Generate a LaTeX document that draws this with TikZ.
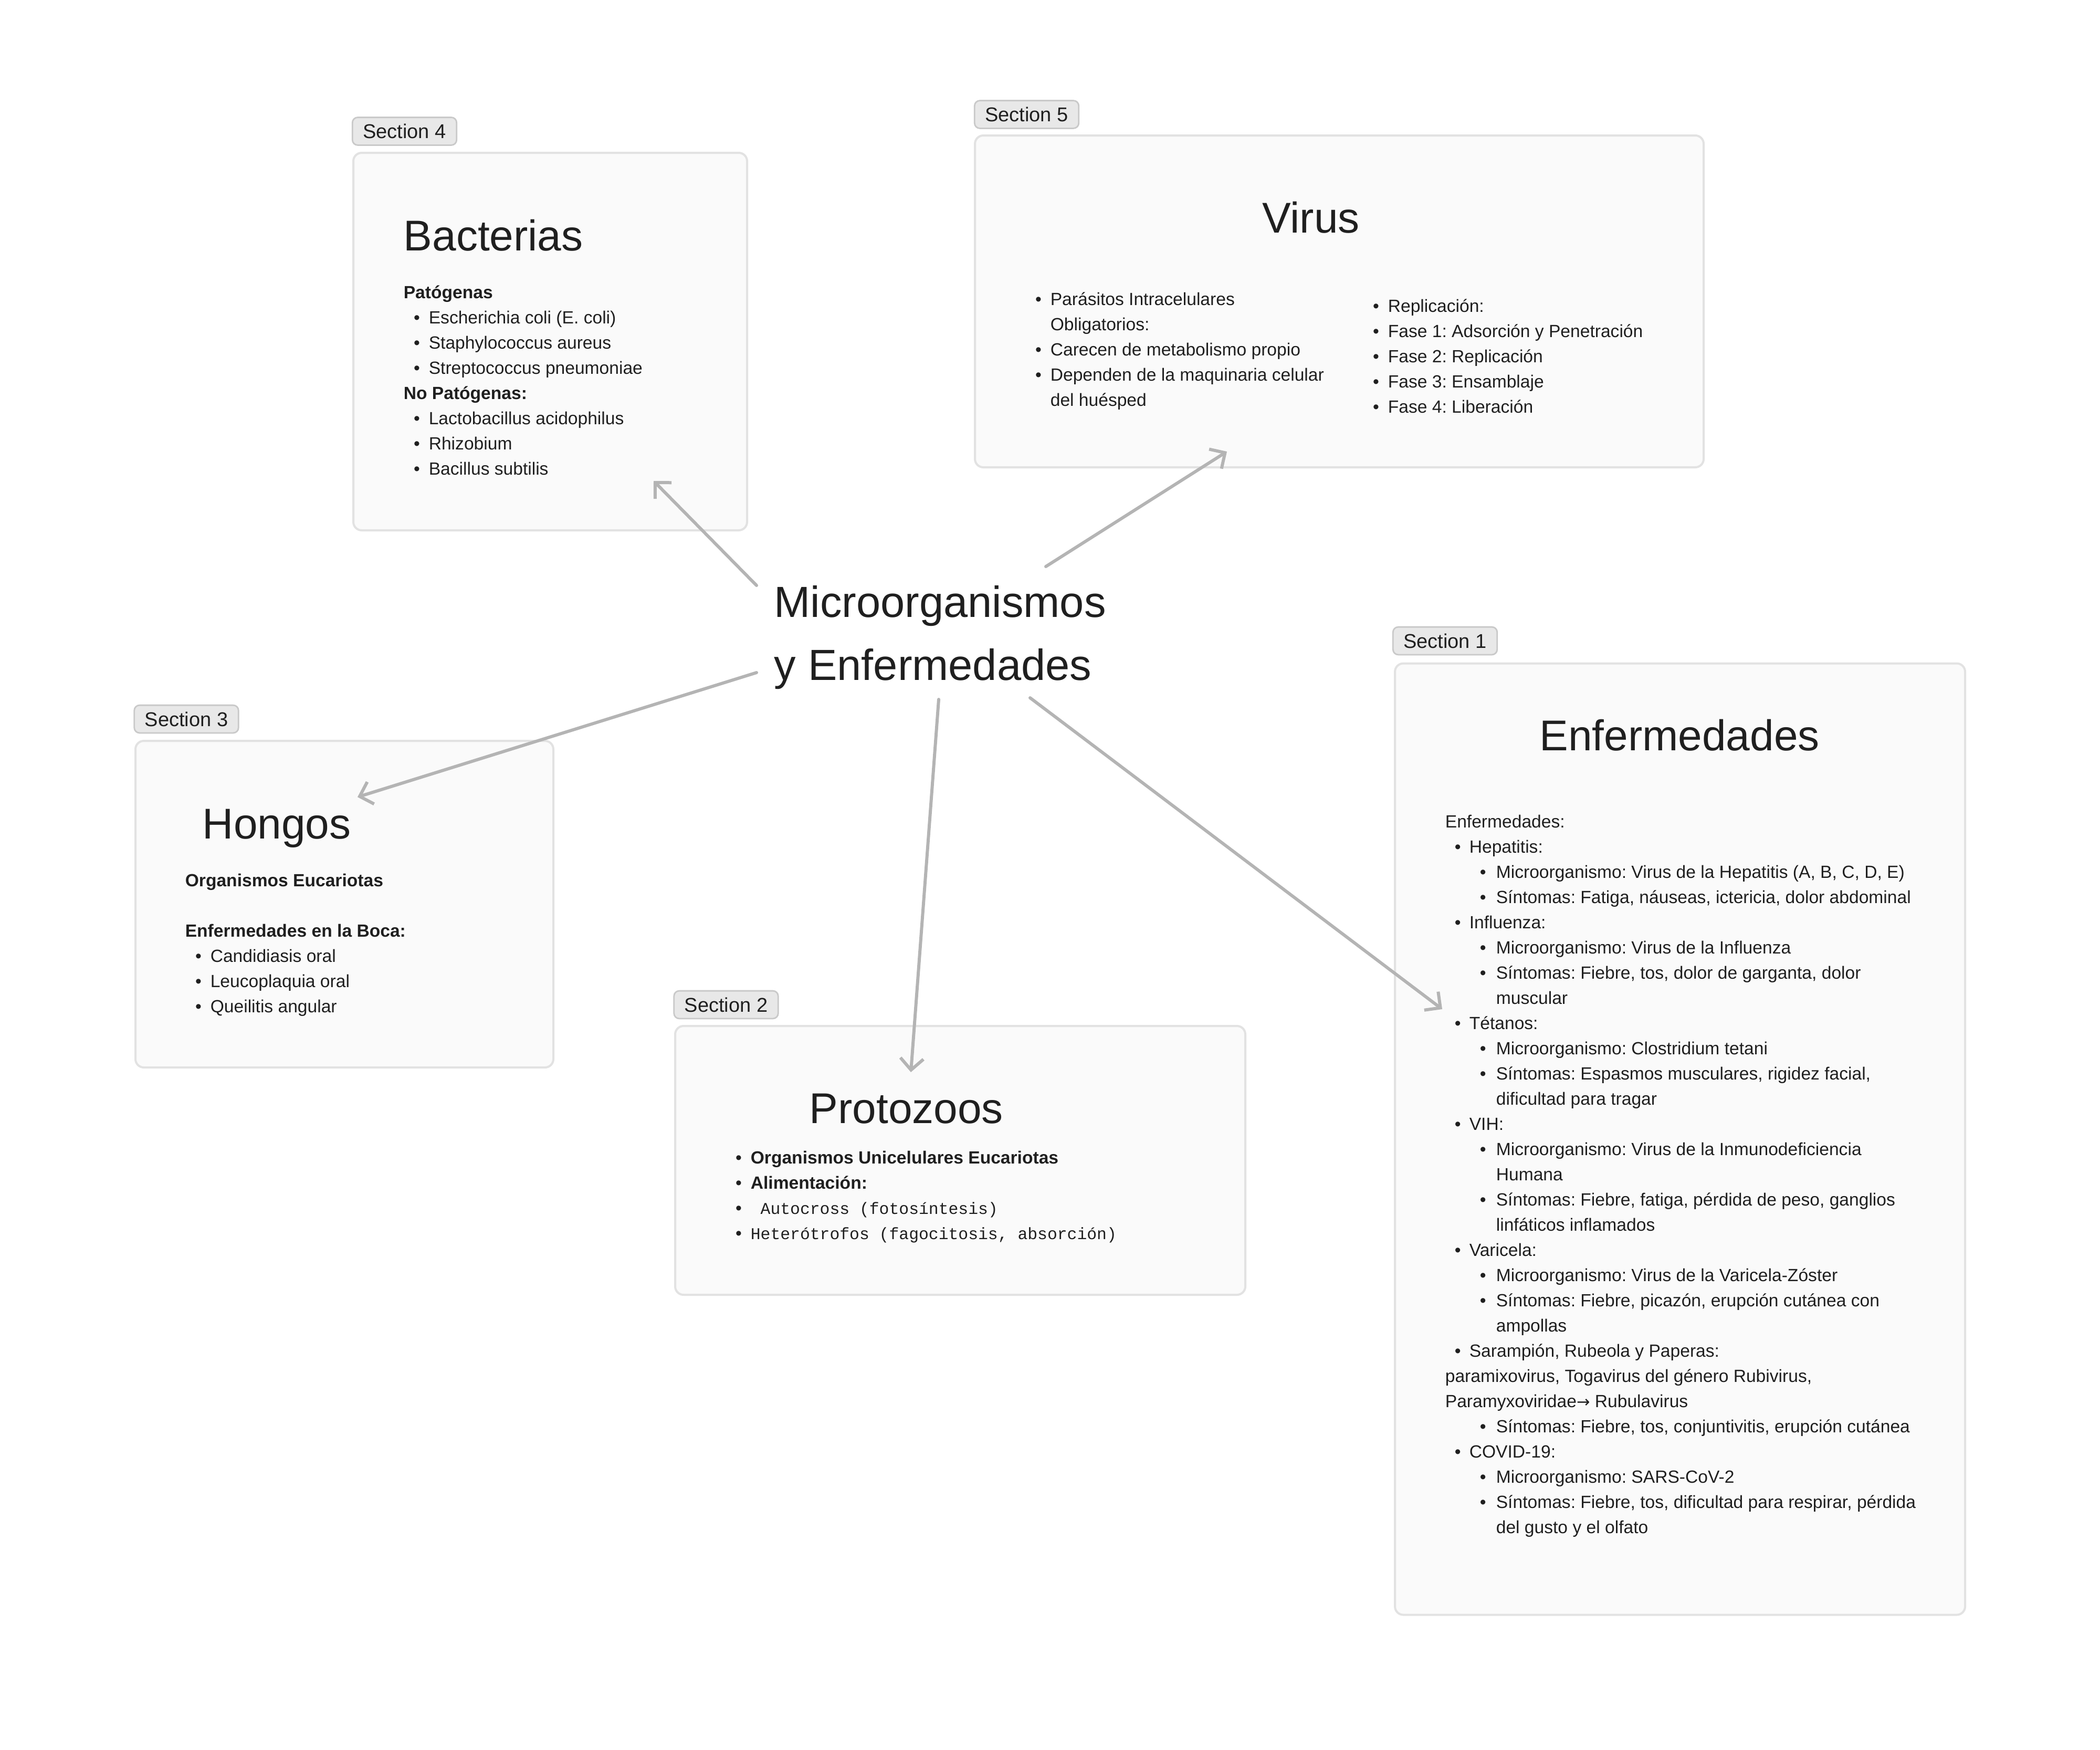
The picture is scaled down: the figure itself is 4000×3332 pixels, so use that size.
\documentclass[tikz,border=0pt]{standalone}
\usepackage{fontspec}
\setmainfont{Liberation Sans}
\setmonofont{Liberation Mono}
\newfontfamily\arrfont{DejaVu Sans}
\usetikzlibrary{arrows.meta}
\definecolor{ink}{HTML}{1F1F1F}
\definecolor{cardfill}{HTML}{FAFAFA}
\definecolor{cardline}{HTML}{E2E2E2}
\definecolor{labfill}{HTML}{E8E8E8}
\definecolor{labline}{HTML}{C9C9C9}
\definecolor{arrowgray}{HTML}{B4B4B4}
\frenchspacing
\newcommand\bulC{\makebox[12pt][l]{\hspace{4.8pt}•}}
\newcommand\contC{\hspace*{12pt}}
\newcommand\bulA{\makebox[11.5pt][l]{\hspace{4.5pt}•}}
\newcommand\bulB{\makebox[24.25pt][l]{\hspace{16.5pt}•}}
\newcommand\contB{\hspace*{24.25pt}}
\begin{document}
\begin{tikzpicture}[x=0.25pt,y=-0.25pt,
  card/.style={draw=cardline, line width=1pt, fill=cardfill, rounded corners=4pt, inner sep=0pt},
  seclabel/.style={draw=labline, line width=0.7pt, fill=labfill, rounded corners=2.5pt, minimum height=13.2pt, inner xsep=5pt, inner ysep=0pt, font=\fontsize{9.5}{11}\selectfont, text=ink},
  titletext/.style={font=\fontsize{20.5}{25}\selectfont, text=ink, inner sep=0pt},
  body/.style={font=\fontsize{8.4}{12}\selectfont, text=ink, align=left, inner sep=0pt, anchor=north west},
  conn/.style={draw=arrowgray, line width=1.5pt, line cap=round, -{Straight Barb[length=5.5pt, width=11pt]}}
]
\path[fill=white] (0,0) rectangle (4000,3332);

% ---- cards
\node[card, minimum width=187.5pt, minimum height=179.75pt] (bactbox) at (1048,650.5) {};
\node[card, minimum width=347pt, minimum height=158pt] (virbox) at (2551,574) {};
\node[card, minimum width=271.5pt, minimum height=453pt] (enfbox) at (3200,2169.5) {};
\node[card, minimum width=199pt, minimum height=155.5pt] (honbox) at (656,1722) {};
\node[card, minimum width=271.5pt, minimum height=128pt] (probox) at (1829,2210) {};

% ---- section labels
\node[seclabel] (lab4) at (770.5,250) {Section 4};
\node[seclabel] (lab5) at (1955.5,218) {Section 5};
\node[seclabel] (lab1) at (2752.5,1220.5) {Section 1};
\node[seclabel] (lab3) at (355,1369.5) {Section 3};
\node[seclabel] (lab2) at (1383,1913.5) {Section 2};

% ---- centre
\node[anchor=north west, inner sep=0pt, align=left, text=ink, font=\fontsize{20.75}{30}\selectfont] (centre) at (1474,1091) {\strut Microorganismos\\y Enfermedades};

% ---- Bacterias
\node[titletext, anchor=base west] (bacttitle) at (768,477) {Bacterias};
\node[body] (bacttext) at (768,534) {%
\strut\textbf{Patógenas}\\
\bulC Escherichia coli (E. coli)\\
\bulC Staphylococcus aureus\\
\bulC Streptococcus pneumoniae\\
\textbf{No Patógenas:}\\
\bulC Lactobacillus acidophilus\\
\bulC Rhizobium\\
\bulC Bacillus subtilis};

% ---- Virus
\node[titletext, anchor=base] (virtitle) at (2497,443) {Virus};
\node[body] (virleft) at (1952,547) {%
\strut\bulC Parásitos Intracelulares\\
\contC Obligatorios:\\
\bulC Carecen de metabolismo propio\\
\bulC Dependen de la maquinaria celular\\
\contC del huésped};
\node[body] (virright) at (2595,560) {%
\strut\bulC Replicación:\\
\bulC Fase 1: Adsorción y Penetración\\
\bulC Fase 2: Replicación\\
\bulC Fase 3: Ensamblaje\\
\bulC Fase 4: Liberación};

% ---- Hongos
\node[titletext, anchor=base west] (hontitle) at (385,1597) {Hongos};
\node[body] (hontext) at (352,1654) {%
\strut\textbf{Organismos Eucariotas}\\
\mbox{}\\
\textbf{Enfermedades en la Boca:}\\
\bulC Candidiasis oral\\
\bulC Leucoplaquia oral\\
\bulC Queilitis angular};

% ---- Protozoos
\node[titletext, anchor=base west] (protitle) at (1541,2139) {Protozoos};
\node[body] (protext) at (1381,2182) {%
\strut\bulC\textbf{Organismos Unicelulares Eucariotas}\\
\bulC\textbf{Alimentación:}\\
\bulC{\ttfamily\fontsize{7.85}{12}\selectfont\ Autocross (fotosíntesis)}\\
\bulC{\ttfamily\fontsize{7.85}{12}\selectfont Heterótrofos (fagocitosis, absorción)}};

% ---- Enfermedades
\node[titletext, anchor=base] (enftitle) at (3199,1429) {Enfermedades};
\node[body] (enftext) at (2752,1542) {%
\strut Enfermedades:\\
\bulA Hepatitis:\\
\bulB Microorganismo: Virus de la Hepatitis (A, B, C, D, E)\\
\bulB Síntomas: Fatiga, náuseas, ictericia, dolor abdominal\\
\bulA Influenza:\\
\bulB Microorganismo: Virus de la Influenza\\
\bulB Síntomas: Fiebre, tos, dolor de garganta, dolor\\
\contB muscular\\
\bulA Tétanos:\\
\bulB Microorganismo: Clostridium tetani\\
\bulB Síntomas: Espasmos musculares, rigidez facial,\\
\contB dificultad para tragar\\
\bulA VIH:\\
\bulB Microorganismo: Virus de la Inmunodeficiencia\\
\contB Humana\\
\bulB Síntomas: Fiebre, fatiga, pérdida de peso, ganglios\\
\contB linfáticos inflamados\\
\bulA Varicela:\\
\bulB Microorganismo: Virus de la Varicela-Zóster\\
\bulB Síntomas: Fiebre, picazón, erupción cutánea con\\
\contB ampollas\\
\bulA Sarampión, Rubeola y Paperas:\\
paramixovirus, Togavirus del género Rubivirus,\\
Paramyxoviridae{\arrfont\fontsize{7.6}{12}\selectfont →} Rubulavirus\\
\bulB Síntomas: Fiebre, tos, conjuntivitis, erupción cutánea\\
\bulA COVID-19:\\
\bulB Microorganismo: SARS-CoV-2\\
\bulB Síntomas: Fiebre, tos, dificultad para respirar, pérdida\\
\contB del gusto y el olfato};

% ---- connectors
\coordinate (bS) at (1441,1115); \coordinate (bE) at (1245,916);
\coordinate (vS) at (1992,1079); \coordinate (vE) at (2337,860);
\coordinate (hS) at (1441,1281); \coordinate (hE) at (681,1518);
\coordinate (pS) at (1788,1332); \coordinate (pE) at (1735,2042);
\coordinate (eS) at (1962,1329); \coordinate (eE) at (2747,1922);
\draw[conn] (bS) -- (bE);
\draw[conn] (vS) -- (vE);
\draw[conn] (hS) -- (hE);
\draw[conn] (pS) -- (pE);
\draw[conn] (eS) -- (eE);
\end{tikzpicture}
\end{document}
